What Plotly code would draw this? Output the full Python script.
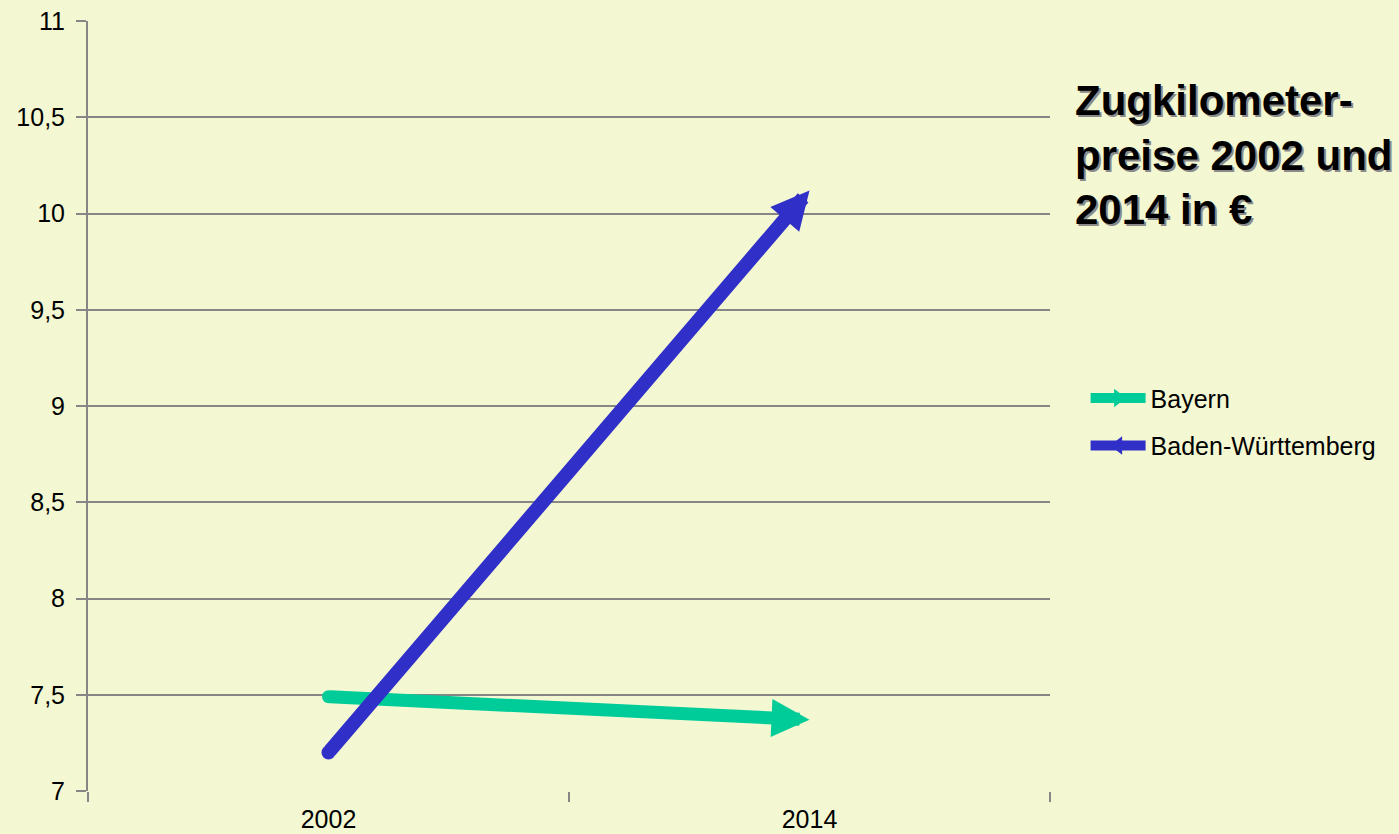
import plotly.graph_objects as go

# ---- data ----
categories = ["2002", "2014"]
bayern = [7.49, 7.37]
baden_wuerttemberg = [7.2, 10.12]
series_names = ["Bayern", "Baden-Württemberg"]
ytick_vals = [7, 7.5, 8, 8.5, 9, 9.5, 10, 10.5, 11]
ytick_text = ["7", "7,5", "8", "8,5", "9", "9,5", "10", "10,5", "11"]
title_text = "Zugkilometer-<br>preise 2002 und<br>2014 in €"

BG = "#F3F8D2"
GRID = "#868686"
C_BAY = "#00CC99"
C_BW = "#3030C8"
FONT = "Liberation Sans, Arial, sans-serif"
HEAD = 38  # arrowhead length in px

fig = go.Figure()
annotations = []
cat_pos = list(range(len(categories)))  # category positions on the axis

for vals, color, lw in [(bayern, C_BAY, 13), (baden_wuerttemberg, C_BW, 14)]:
    # round start cap + hover points
    fig.add_trace(go.Scatter(
        x=categories, y=vals, mode="markers",
        marker=dict(size=[lw, 0], color=color, opacity=1, line=dict(width=0)),
        showlegend=False, hoverinfo="x+y",
    ))
    # the arrow (shaft + head) from first to second value
    annotations.append(dict(
        x=cat_pos[1], y=vals[1], xref="x", yref="y",
        ax=cat_pos[0], ay=vals[0], axref="x", ayref="y",
        showarrow=True, arrowhead=2, arrowsize=HEAD / 5 / lw, arrowwidth=lw,
        arrowcolor=color, standoff=0, startstandoff=0, text="",
    ))

# legend-only entries
fig.add_trace(go.Scatter(
    x=[None], y=[None], mode="lines+markers", name=series_names[0],
    line=dict(color=C_BAY, width=12),
    marker=dict(symbol="triangle-right", size=30, color=C_BAY),
    legendgroup="a",
))
fig.add_trace(go.Scatter(
    x=[None], y=[None], mode="lines+markers", name=series_names[1],
    line=dict(color=C_BW, width=12),
    marker=dict(symbol="triangle-left", size=30, color=C_BW),
    legendgroup="b",
))

annotations.append(dict(
    text="<b>" + title_text + "</b>", xref="paper", yref="paper",
    x=1.024, y=0.93, xanchor="left", yanchor="top", align="left",
    showarrow=False,
    font=dict(family=FONT, size=42, color="black",
              shadow="2px 2px 0px #8a8a8a"),
))

fig.update_layout(
    width=1399, height=834,
    margin=dict(l=88, r=349, t=21, b=43, autoexpand=False),
    paper_bgcolor=BG, plot_bgcolor=BG,
    font=dict(family=FONT, size=22, color="black"),
    legend=dict(x=1.037, xanchor="left", y=0.54, yanchor="top",
                font=dict(family=FONT, size=25, color="black"),
                itemwidth=55, tracegroupgap=12, bgcolor="rgba(0,0,0,0)"),
    xaxis=dict(type="category", range=[-0.5, 1.5], tickson="boundaries",
               ticks="outside", ticklen=10, tickwidth=2, tickcolor=GRID,
               showgrid=False, showline=False, zeroline=False,
               automargin=False, ticklabelstandoff=11,
               tickfont=dict(family=FONT, size=25, color="black")),
    yaxis=dict(range=[7, 11], tickvals=ytick_vals, ticktext=ytick_text,
               ticks="outside", ticklen=10, tickwidth=2, tickcolor=GRID,
               showgrid=True, gridcolor=GRID, gridwidth=2,
               showline=True, linecolor=GRID, linewidth=2, zeroline=False,
               automargin=False, ticklabelstandoff=6,
               tickfont=dict(family=FONT, size=25, color="black")),
    annotations=annotations,
)

fig.write_html("out.html", config={"displayModeBar": False},
               post_script="document.body.style.margin='0';")
